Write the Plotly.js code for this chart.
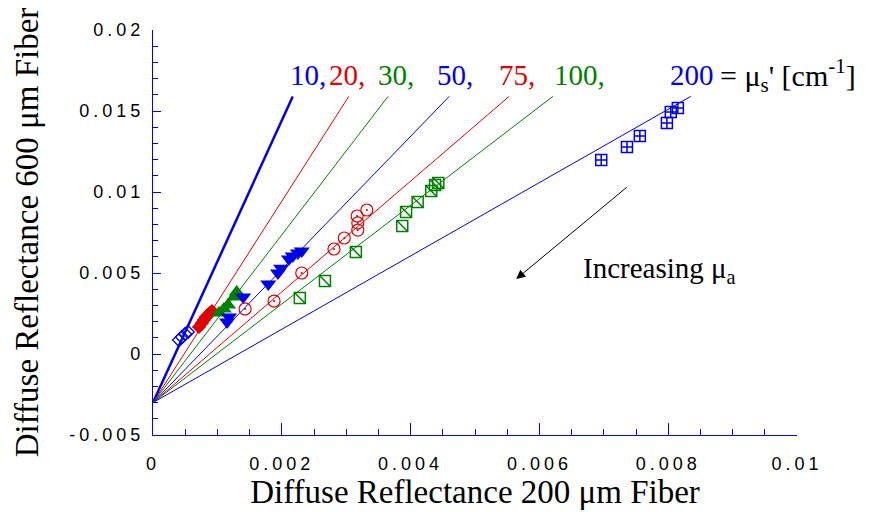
<!DOCTYPE html>
<html>
<head>
<meta charset="utf-8">
<script src="https://cdn.plot.ly/plotly-3.0.1.min.js"></script>
<style>
html,body{margin:0;padding:0;background:#fff;}
#chart{width:876px;height:512px;}
.xtick text,.ytick text{letter-spacing:4px;}
</style>
</head>
<body>
<div id="chart"></div>
<script>
// mu_s' groups
var groups = ['10', '20', '30', '50', '75', '100', '200'];
var groupColors = ['rgb(0,0,235)', 'rgb(225,0,0)', 'rgb(0,128,0)', 'rgb(0,0,235)', 'rgb(225,0,0)', 'rgb(0,128,0)', 'rgb(0,0,235)'];

// fitted lines: common intercept and upper end points
var lineX0 = 0;
var lineY0 = -0.003;
var lineEndX = [0.00217, 0.00304, 0.00365, 0.00460, 0.00553, 0.00621, 0.00835];
var lineEndY = [0.0159, 0.0159, 0.0159, 0.0159, 0.0159, 0.0159, 0.0159];

// data points
var x10 = [0.000404, 0.00045, 0.000497, 0.00054];
var y10 = [0.00086, 0.00105, 0.00123, 0.00136];

var x20 = [0.000714, 0.00076, 0.00079, 0.00082, 0.000854, 0.000885, 0.000916];
var y20 = [0.00167, 0.00191, 0.00210, 0.00228, 0.00241, 0.00253, 0.00265];

var x30 = [0.001025, 0.0011, 0.001165, 0.00126, 0.0013];
var y30 = [0.00253, 0.00278, 0.00302, 0.00352, 0.00383];

var x50 = [0.00115, 0.00118, 0.0014, 0.00179, 0.00194, 0.00199, 0.00211, 0.00217, 0.00225, 0.00231];
var y50 = [0.00198, 0.00228, 0.00352, 0.00432, 0.0050, 0.0053, 0.00586, 0.00605, 0.00623, 0.00636];

var x75 = [0.00143, 0.00188, 0.00231, 0.00281, 0.00297, 0.00318, 0.00318, 0.00317, 0.00332];
var y75 = [0.00278, 0.00327, 0.0050, 0.00648, 0.00716, 0.00765, 0.00809, 0.00852, 0.00889];

var x100 = [0.00228, 0.00267, 0.00315, 0.00387, 0.00393, 0.00411, 0.00432, 0.00438, 0.00443];
var y100 = [0.00346, 0.00451, 0.0063, 0.0079, 0.00877, 0.00938, 0.01006, 0.01043, 0.01056];

var x200 = [0.00696, 0.00736, 0.00756, 0.00798, 0.00804, 0.00815];
var y200 = [0.01198, 0.01278, 0.01346, 0.01426, 0.01494, 0.01519];

// tick labels
var xTickVals = [0, 0.002, 0.004, 0.006, 0.008, 0.01];
var xTickText = ['0', '0.002', '0.004', '0.006', '0.008', '0.01'];
var yTickVals = [-0.005, 0, 0.005, 0.01, 0.015, 0.02];
var yTickText = ['-0.005', '0', '0.005', '0.01', '0.015', '0.02'];

// label positions for mu_s' values along the top
var labelX = [0.00209, 0.00270, 0.00346, 0.00438, 0.00534, 0.00620, 0.00799];
var labelY = 0.0172;

var traces = [];
for (var i = 0; i < groups.length; i++) {
  traces.push({
    x: [lineX0, lineEndX[i]], y: [lineY0, lineEndY[i]],
    mode: 'lines', type: 'scatter', hoverinfo: 'skip', showlegend: false,
    line: {color: groupColors[i], width: i === 0 ? 2.5 : 1}
  });
}
function pts(x, y, sym, color, size, lw) {
  return {x: x, y: y, mode: 'markers', type: 'scatter', showlegend: false,
    marker: {symbol: sym, color: color, size: size, line: {color: color, width: lw}}};
}
traces.push(pts(x10, y10, 'diamond-open', groupColors[0], 10, 1.3));
traces.push(pts(x20, y20, 'diamond', groupColors[1], 11, 0));
traces.push(pts(x30, y30, 'triangle-up', groupColors[2], 14, 0));
traces.push(pts(x50, y50, 'triangle-down', groupColors[3], 14, 0));
traces.push(pts(x75, y75, 'circle-open-dot', groupColors[4], 12, 1.2));
traces.push(pts(x100, y100, 'square-open', groupColors[5], 11, 1.5));
traces.push(pts(x100, y100, 'line-nw', groupColors[5], 11, 1.5));
traces.push(pts(x200, y200, 'square-cross-open', groupColors[6], 11, 1.5));

var annotations = [];
var labelTexts = ['10,', '20,', '30,', '50,', '75,', '100,', '200'];
for (var j = 0; j < labelTexts.length; j++) {
  annotations.push({x: labelX[j], y: labelY, xref: 'x', yref: 'y', text: labelTexts[j],
    showarrow: false, xanchor: 'left', yanchor: 'middle',
    font: {family: 'Liberation Serif', size: 29, color: groupColors[j]}});
}
annotations.push({x: 0.00878, y: labelY, xref: 'x', yref: 'y',
  text: '= μ<sub>s</sub>\' [cm<sup>-1</sup>]', showarrow: false, xanchor: 'left', yanchor: 'middle',
  font: {family: 'Liberation Serif', size: 30, color: '#000'}});
annotations.push({x: 0.00664, y: 0.0052, xref: 'x', yref: 'y',
  text: 'Increasing μ<sub>a</sub>', showarrow: false, xanchor: 'left', yanchor: 'middle',
  font: {family: 'Liberation Serif', size: 29, color: '#000'}});
annotations.push({x: 0.00564, y: 0.00463, xref: 'x', yref: 'y',
  ax: 0.00738, ay: 0.01037, axref: 'x', ayref: 'y', text: '',
  showarrow: true, arrowhead: 2, arrowsize: 1.8, arrowwidth: 1, arrowcolor: '#000'});

var layout = {
  width: 876, height: 512,
  margin: {l: 153, r: 79, t: 30, b: 77},
  paper_bgcolor: '#fff', plot_bgcolor: '#fff',
  showlegend: false,
  xaxis: {
    range: [0, 0.01], showgrid: false, zeroline: false,
    showline: true, linecolor: 'rgb(0,0,235)', linewidth: 1.2,
    ticks: 'inside', ticklen: 12, tickcolor: 'rgb(0,0,235)', tickwidth: 1,
    tickvals: xTickVals, ticktext: xTickText, ticklabelstandoff: 12,
    minor: {dtick: 0.0005, ticks: 'inside', ticklen: 6, tickcolor: 'rgb(0,0,235)', tickwidth: 1, showgrid: false},
    tickfont: {family: 'Liberation Sans', size: 18, color: '#000'},
    title: {text: 'Diffuse Reflectance 200 μm Fiber', standoff: 4,
      font: {family: 'Liberation Serif', size: 33, color: '#000'}},
    automargin: false
  },
  yaxis: {
    range: [-0.005, 0.02], showgrid: false, zeroline: false,
    showline: true, linecolor: 'rgb(0,0,235)', linewidth: 1.2,
    ticks: 'inside', ticklen: 8, tickcolor: 'rgb(0,0,235)', tickwidth: 1,
    tickvals: yTickVals, ticktext: yTickText, ticklabelstandoff: 4,
    minor: {dtick: 0.001, ticks: 'inside', ticklen: 5, tickcolor: 'rgb(0,0,235)', tickwidth: 1, showgrid: false},
    tickfont: {family: 'Liberation Sans', size: 18, color: '#000'},
    title: {text: 'Diffuse Reflectance 600 μm Fiber', standoff: 20,
      font: {family: 'Liberation Serif', size: 33, color: '#000'}},
    automargin: false
  },
  annotations: annotations
};

Plotly.newPlot('chart', traces, layout, {displayModeBar: false, staticPlot: true});
</script>
</body>
</html>
